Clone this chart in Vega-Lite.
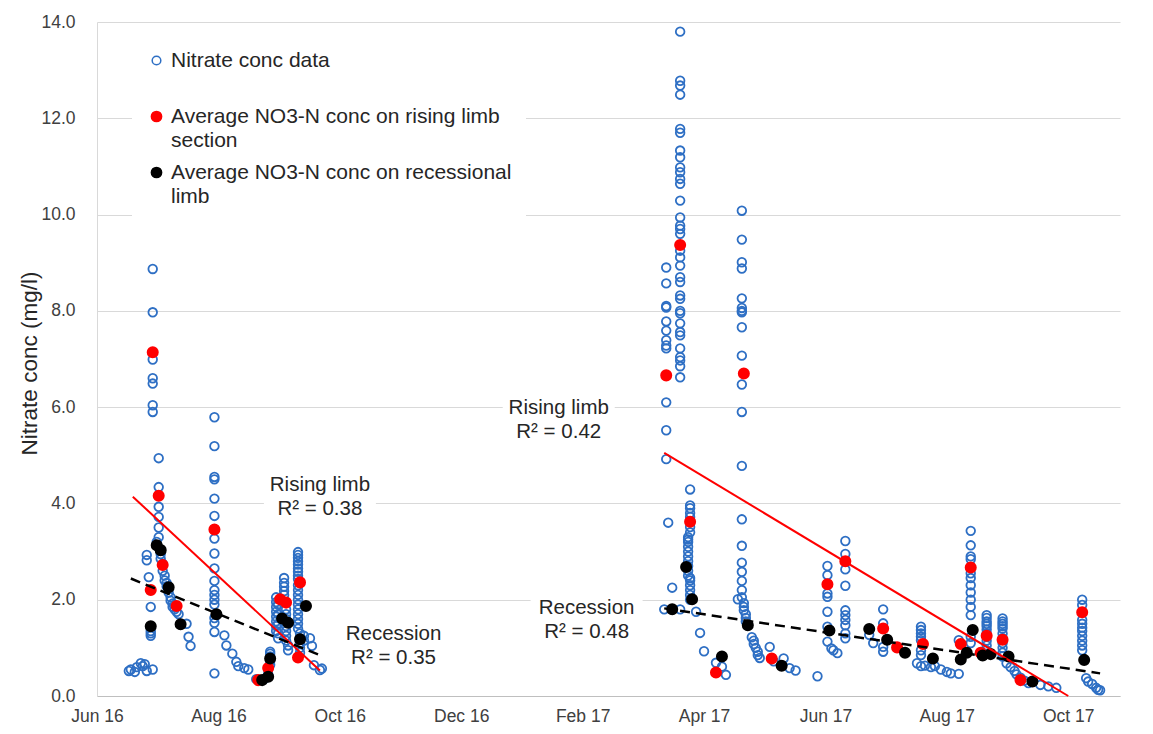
{
  "$schema": "https://vega.github.io/schema/vega-lite/v6.json",
  "width": 1023,
  "height": 674,
  "autosize": "none",
  "padding": {"left": 97, "top": 22, "right": 33, "bottom": 38},
  "background": "white",
  "config": {
    "font": "Liberation Sans",
    "view": {"stroke": null},
    "axis": {"labelFont": "Liberation Sans", "titleFont": "Liberation Sans"},
    "axisY": {"titleFontSize": 22.5, "titleFontWeight": "normal"}
  },
  "datasets": {
    "obs": [
      {"date":"2016-06-19","value":0.52,"series":"data"},
      {"date":"2016-06-20","value":0.55,"series":"data"},
      {"date":"2016-06-22","value":0.50,"series":"data"},
      {"date":"2016-06-23","value":0.60,"series":"data"},
      {"date":"2016-06-25","value":0.68,"series":"data"},
      {"date":"2016-06-26","value":0.62,"series":"data"},
      {"date":"2016-06-27","value":0.66,"series":"data"},
      {"date":"2016-06-28","value":0.52,"series":"data"},
      {"date":"2016-07-01","value":0.55,"series":"data"},
      {"date":"2016-06-28","value":2.93,"series":"data"},
      {"date":"2016-06-28","value":2.82,"series":"data"},
      {"date":"2016-06-29","value":2.47,"series":"data"},
      {"date":"2016-06-30","value":1.85,"series":"data"},
      {"date":"2016-06-30","value":1.35,"series":"data"},
      {"date":"2016-06-30","value":1.25,"series":"data"},
      {"date":"2016-06-30","value":1.30,"series":"data"},
      {"date":"2016-07-01","value":8.87,"series":"data"},
      {"date":"2016-07-01","value":7.97,"series":"data"},
      {"date":"2016-07-01","value":6.99,"series":"data"},
      {"date":"2016-07-01","value":6.60,"series":"data"},
      {"date":"2016-07-01","value":6.49,"series":"data"},
      {"date":"2016-07-01","value":6.04,"series":"data"},
      {"date":"2016-07-01","value":5.90,"series":"data"},
      {"date":"2016-07-04","value":4.94,"series":"data"},
      {"date":"2016-07-04","value":4.34,"series":"data"},
      {"date":"2016-07-04","value":3.93,"series":"data"},
      {"date":"2016-07-04","value":3.72,"series":"data"},
      {"date":"2016-07-04","value":3.50,"series":"data"},
      {"date":"2016-07-04","value":3.30,"series":"data"},
      {"date":"2016-07-03","value":3.20,"series":"data"},
      {"date":"2016-07-05","value":2.95,"series":"data"},
      {"date":"2016-07-05","value":2.85,"series":"data"},
      {"date":"2016-07-06","value":2.75,"series":"data"},
      {"date":"2016-07-06","value":2.60,"series":"data"},
      {"date":"2016-07-07","value":2.50,"series":"data"},
      {"date":"2016-07-07","value":2.40,"series":"data"},
      {"date":"2016-07-08","value":2.35,"series":"data"},
      {"date":"2016-07-08","value":2.28,"series":"data"},
      {"date":"2016-07-09","value":2.15,"series":"data"},
      {"date":"2016-07-10","value":2.05,"series":"data"},
      {"date":"2016-07-10","value":1.98,"series":"data"},
      {"date":"2016-07-11","value":1.92,"series":"data"},
      {"date":"2016-07-11","value":1.85,"series":"data"},
      {"date":"2016-07-12","value":1.80,"series":"data"},
      {"date":"2016-07-13","value":1.75,"series":"data"},
      {"date":"2016-07-14","value":1.70,"series":"data"},
      {"date":"2016-07-18","value":1.50,"series":"data"},
      {"date":"2016-07-19","value":1.23,"series":"data"},
      {"date":"2016-07-20","value":1.04,"series":"data"},
      {"date":"2016-08-01","value":5.79,"series":"data"},
      {"date":"2016-08-01","value":5.19,"series":"data"},
      {"date":"2016-08-01","value":4.55,"series":"data"},
      {"date":"2016-08-01","value":4.50,"series":"data"},
      {"date":"2016-08-01","value":4.10,"series":"data"},
      {"date":"2016-08-01","value":3.74,"series":"data"},
      {"date":"2016-08-01","value":3.27,"series":"data"},
      {"date":"2016-08-01","value":2.96,"series":"data"},
      {"date":"2016-08-01","value":2.65,"series":"data"},
      {"date":"2016-08-01","value":2.39,"series":"data"},
      {"date":"2016-08-01","value":2.20,"series":"data"},
      {"date":"2016-08-01","value":2.10,"series":"data"},
      {"date":"2016-08-01","value":2.00,"series":"data"},
      {"date":"2016-08-01","value":1.90,"series":"data"},
      {"date":"2016-08-01","value":1.62,"series":"data"},
      {"date":"2016-08-01","value":1.52,"series":"data"},
      {"date":"2016-08-01","value":1.33,"series":"data"},
      {"date":"2016-08-01","value":0.47,"series":"data"},
      {"date":"2016-08-06","value":1.26,"series":"data"},
      {"date":"2016-08-07","value":1.05,"series":"data"},
      {"date":"2016-08-10","value":0.88,"series":"data"},
      {"date":"2016-08-12","value":0.71,"series":"data"},
      {"date":"2016-08-13","value":0.62,"series":"data"},
      {"date":"2016-08-16","value":0.58,"series":"data"},
      {"date":"2016-08-18","value":0.55,"series":"data"},
      {"date":"2016-08-22","value":0.35,"series":"data"},
      {"date":"2016-08-24","value":0.33,"series":"data"},
      {"date":"2016-08-26","value":0.35,"series":"data"},
      {"date":"2016-08-28","value":0.45,"series":"data"},
      {"date":"2016-08-28","value":0.55,"series":"data"},
      {"date":"2016-08-29","value":0.65,"series":"data"},
      {"date":"2016-08-29","value":0.72,"series":"data"},
      {"date":"2016-08-29","value":0.82,"series":"data"},
      {"date":"2016-08-29","value":0.88,"series":"data"},
      {"date":"2016-08-29","value":0.92,"series":"data"},
      {"date":"2016-09-01","value":2.05,"series":"data"},
      {"date":"2016-09-01","value":1.95,"series":"data"},
      {"date":"2016-09-01","value":1.85,"series":"data"},
      {"date":"2016-09-01","value":1.75,"series":"data"},
      {"date":"2016-09-01","value":1.65,"series":"data"},
      {"date":"2016-09-01","value":1.55,"series":"data"},
      {"date":"2016-09-01","value":1.45,"series":"data"},
      {"date":"2016-09-01","value":1.35,"series":"data"},
      {"date":"2016-09-02","value":1.90,"series":"data"},
      {"date":"2016-09-02","value":1.70,"series":"data"},
      {"date":"2016-09-02","value":1.50,"series":"data"},
      {"date":"2016-09-02","value":1.30,"series":"data"},
      {"date":"2016-09-02","value":1.20,"series":"data"},
      {"date":"2016-09-05","value":2.45,"series":"data"},
      {"date":"2016-09-05","value":2.35,"series":"data"},
      {"date":"2016-09-05","value":2.27,"series":"data"},
      {"date":"2016-09-05","value":2.18,"series":"data"},
      {"date":"2016-09-05","value":2.10,"series":"data"},
      {"date":"2016-09-06","value":1.80,"series":"data"},
      {"date":"2016-09-06","value":1.70,"series":"data"},
      {"date":"2016-09-06","value":1.60,"series":"data"},
      {"date":"2016-09-06","value":1.45,"series":"data"},
      {"date":"2016-09-06","value":1.35,"series":"data"},
      {"date":"2016-09-06","value":1.25,"series":"data"},
      {"date":"2016-09-06","value":1.15,"series":"data"},
      {"date":"2016-09-07","value":1.05,"series":"data"},
      {"date":"2016-09-07","value":0.95,"series":"data"},
      {"date":"2016-09-12","value":2.99,"series":"data"},
      {"date":"2016-09-12","value":2.93,"series":"data"},
      {"date":"2016-09-12","value":2.87,"series":"data"},
      {"date":"2016-09-12","value":2.80,"series":"data"},
      {"date":"2016-09-12","value":2.73,"series":"data"},
      {"date":"2016-09-12","value":2.65,"series":"data"},
      {"date":"2016-09-12","value":2.58,"series":"data"},
      {"date":"2016-09-12","value":2.50,"series":"data"},
      {"date":"2016-09-12","value":2.43,"series":"data"},
      {"date":"2016-09-12","value":2.30,"series":"data"},
      {"date":"2016-09-12","value":2.20,"series":"data"},
      {"date":"2016-09-12","value":2.10,"series":"data"},
      {"date":"2016-09-12","value":2.00,"series":"data"},
      {"date":"2016-09-12","value":1.90,"series":"data"},
      {"date":"2016-09-12","value":1.80,"series":"data"},
      {"date":"2016-09-12","value":1.70,"series":"data"},
      {"date":"2016-09-12","value":1.60,"series":"data"},
      {"date":"2016-09-12","value":1.50,"series":"data"},
      {"date":"2016-09-12","value":1.40,"series":"data"},
      {"date":"2016-09-13","value":1.30,"series":"data"},
      {"date":"2016-09-13","value":1.20,"series":"data"},
      {"date":"2016-09-13","value":1.10,"series":"data"},
      {"date":"2016-09-13","value":1.00,"series":"data"},
      {"date":"2016-09-13","value":0.90,"series":"data"},
      {"date":"2016-09-15","value":1.25,"series":"data"},
      {"date":"2016-09-15","value":1.15,"series":"data"},
      {"date":"2016-09-18","value":1.20,"series":"data"},
      {"date":"2016-09-19","value":1.04,"series":"data"},
      {"date":"2016-09-20","value":0.64,"series":"data"},
      {"date":"2016-09-23","value":0.54,"series":"data"},
      {"date":"2016-09-24","value":0.57,"series":"data"},
      {"date":"2017-03-16","value":8.90,"series":"data"},
      {"date":"2017-03-16","value":8.57,"series":"data"},
      {"date":"2017-03-16","value":8.10,"series":"data"},
      {"date":"2017-03-16","value":8.07,"series":"data"},
      {"date":"2017-03-16","value":7.78,"series":"data"},
      {"date":"2017-03-16","value":7.59,"series":"data"},
      {"date":"2017-03-16","value":7.39,"series":"data"},
      {"date":"2017-03-16","value":7.28,"series":"data"},
      {"date":"2017-03-16","value":7.22,"series":"data"},
      {"date":"2017-03-16","value":6.10,"series":"data"},
      {"date":"2017-03-16","value":5.52,"series":"data"},
      {"date":"2017-03-16","value":4.92,"series":"data"},
      {"date":"2017-03-17","value":3.60,"series":"data"},
      {"date":"2017-03-15","value":1.80,"series":"data"},
      {"date":"2017-03-23","value":13.80,"series":"data"},
      {"date":"2017-03-23","value":12.78,"series":"data"},
      {"date":"2017-03-23","value":12.68,"series":"data"},
      {"date":"2017-03-23","value":12.49,"series":"data"},
      {"date":"2017-03-23","value":11.78,"series":"data"},
      {"date":"2017-03-23","value":11.70,"series":"data"},
      {"date":"2017-03-23","value":11.33,"series":"data"},
      {"date":"2017-03-23","value":11.19,"series":"data"},
      {"date":"2017-03-23","value":10.98,"series":"data"},
      {"date":"2017-03-23","value":10.88,"series":"data"},
      {"date":"2017-03-23","value":10.74,"series":"data"},
      {"date":"2017-03-23","value":10.64,"series":"data"},
      {"date":"2017-03-23","value":10.29,"series":"data"},
      {"date":"2017-03-23","value":9.94,"series":"data"},
      {"date":"2017-03-23","value":9.77,"series":"data"},
      {"date":"2017-03-23","value":9.70,"series":"data"},
      {"date":"2017-03-23","value":9.60,"series":"data"},
      {"date":"2017-03-23","value":9.25,"series":"data"},
      {"date":"2017-03-23","value":9.11,"series":"data"},
      {"date":"2017-03-23","value":8.94,"series":"data"},
      {"date":"2017-03-23","value":8.70,"series":"data"},
      {"date":"2017-03-23","value":8.60,"series":"data"},
      {"date":"2017-03-23","value":8.32,"series":"data"},
      {"date":"2017-03-23","value":8.25,"series":"data"},
      {"date":"2017-03-23","value":8.00,"series":"data"},
      {"date":"2017-03-23","value":7.95,"series":"data"},
      {"date":"2017-03-23","value":7.74,"series":"data"},
      {"date":"2017-03-23","value":7.56,"series":"data"},
      {"date":"2017-03-23","value":7.49,"series":"data"},
      {"date":"2017-03-23","value":7.22,"series":"data"},
      {"date":"2017-03-23","value":7.04,"series":"data"},
      {"date":"2017-03-23","value":6.97,"series":"data"},
      {"date":"2017-03-23","value":6.85,"series":"data"},
      {"date":"2017-03-23","value":6.62,"series":"data"},
      {"date":"2017-03-19","value":2.25,"series":"data"},
      {"date":"2017-03-23","value":1.80,"series":"data"},
      {"date":"2017-03-28","value":4.29,"series":"data"},
      {"date":"2017-03-28","value":3.96,"series":"data"},
      {"date":"2017-03-28","value":3.90,"series":"data"},
      {"date":"2017-03-28","value":3.80,"series":"data"},
      {"date":"2017-03-28","value":3.72,"series":"data"},
      {"date":"2017-03-28","value":3.51,"series":"data"},
      {"date":"2017-03-28","value":3.40,"series":"data"},
      {"date":"2017-03-27","value":3.30,"series":"data"},
      {"date":"2017-03-27","value":3.25,"series":"data"},
      {"date":"2017-03-27","value":3.20,"series":"data"},
      {"date":"2017-03-27","value":3.10,"series":"data"},
      {"date":"2017-03-27","value":3.00,"series":"data"},
      {"date":"2017-03-27","value":2.90,"series":"data"},
      {"date":"2017-03-27","value":2.80,"series":"data"},
      {"date":"2017-03-27","value":2.70,"series":"data"},
      {"date":"2017-03-27","value":2.60,"series":"data"},
      {"date":"2017-03-27","value":2.50,"series":"data"},
      {"date":"2017-03-28","value":2.45,"series":"data"},
      {"date":"2017-03-28","value":2.40,"series":"data"},
      {"date":"2017-03-28","value":2.30,"series":"data"},
      {"date":"2017-03-28","value":2.20,"series":"data"},
      {"date":"2017-03-28","value":2.10,"series":"data"},
      {"date":"2017-03-28","value":2.00,"series":"data"},
      {"date":"2017-03-31","value":1.75,"series":"data"},
      {"date":"2017-04-02","value":1.31,"series":"data"},
      {"date":"2017-04-04","value":0.93,"series":"data"},
      {"date":"2017-04-10","value":0.69,"series":"data"},
      {"date":"2017-04-13","value":0.61,"series":"data"},
      {"date":"2017-04-15","value":0.44,"series":"data"},
      {"date":"2017-04-23","value":10.08,"series":"data"},
      {"date":"2017-04-23","value":9.48,"series":"data"},
      {"date":"2017-04-23","value":9.01,"series":"data"},
      {"date":"2017-04-23","value":8.88,"series":"data"},
      {"date":"2017-04-23","value":8.26,"series":"data"},
      {"date":"2017-04-23","value":8.06,"series":"data"},
      {"date":"2017-04-23","value":8.00,"series":"data"},
      {"date":"2017-04-23","value":7.97,"series":"data"},
      {"date":"2017-04-23","value":7.66,"series":"data"},
      {"date":"2017-04-23","value":7.07,"series":"data"},
      {"date":"2017-04-23","value":6.47,"series":"data"},
      {"date":"2017-04-23","value":5.90,"series":"data"},
      {"date":"2017-04-23","value":4.78,"series":"data"},
      {"date":"2017-04-23","value":3.67,"series":"data"},
      {"date":"2017-04-23","value":3.12,"series":"data"},
      {"date":"2017-04-23","value":2.77,"series":"data"},
      {"date":"2017-04-23","value":2.58,"series":"data"},
      {"date":"2017-04-23","value":2.39,"series":"data"},
      {"date":"2017-04-23","value":2.20,"series":"data"},
      {"date":"2017-04-23","value":2.05,"series":"data"},
      {"date":"2017-04-21","value":2.01,"series":"data"},
      {"date":"2017-04-24","value":1.93,"series":"data"},
      {"date":"2017-04-24","value":1.85,"series":"data"},
      {"date":"2017-04-24","value":1.78,"series":"data"},
      {"date":"2017-04-25","value":1.70,"series":"data"},
      {"date":"2017-04-25","value":1.62,"series":"data"},
      {"date":"2017-04-25","value":1.55,"series":"data"},
      {"date":"2017-04-28","value":1.22,"series":"data"},
      {"date":"2017-04-29","value":1.15,"series":"data"},
      {"date":"2017-04-29","value":1.08,"series":"data"},
      {"date":"2017-04-30","value":1.00,"series":"data"},
      {"date":"2017-05-01","value":0.92,"series":"data"},
      {"date":"2017-05-01","value":0.85,"series":"data"},
      {"date":"2017-05-02","value":0.79,"series":"data"},
      {"date":"2017-05-07","value":1.02,"series":"data"},
      {"date":"2017-05-09","value":0.72,"series":"data"},
      {"date":"2017-05-14","value":0.78,"series":"data"},
      {"date":"2017-05-17","value":0.58,"series":"data"},
      {"date":"2017-05-20","value":0.53,"series":"data"},
      {"date":"2017-05-31","value":0.41,"series":"data"},
      {"date":"2017-06-05","value":2.70,"series":"data"},
      {"date":"2017-06-05","value":2.51,"series":"data"},
      {"date":"2017-06-05","value":2.13,"series":"data"},
      {"date":"2017-06-05","value":2.06,"series":"data"},
      {"date":"2017-06-05","value":1.75,"series":"data"},
      {"date":"2017-06-05","value":1.44,"series":"data"},
      {"date":"2017-06-05","value":1.13,"series":"data"},
      {"date":"2017-06-07","value":0.99,"series":"data"},
      {"date":"2017-06-08","value":0.95,"series":"data"},
      {"date":"2017-06-10","value":0.89,"series":"data"},
      {"date":"2017-06-14","value":3.22,"series":"data"},
      {"date":"2017-06-14","value":2.95,"series":"data"},
      {"date":"2017-06-14","value":2.63,"series":"data"},
      {"date":"2017-06-14","value":2.29,"series":"data"},
      {"date":"2017-06-14","value":1.78,"series":"data"},
      {"date":"2017-06-14","value":1.68,"series":"data"},
      {"date":"2017-06-14","value":1.58,"series":"data"},
      {"date":"2017-06-14","value":1.47,"series":"data"},
      {"date":"2017-06-14","value":1.30,"series":"data"},
      {"date":"2017-06-14","value":1.20,"series":"data"},
      {"date":"2017-06-26","value":1.27,"series":"data"},
      {"date":"2017-06-28","value":1.10,"series":"data"},
      {"date":"2017-07-03","value":1.80,"series":"data"},
      {"date":"2017-07-03","value":1.51,"series":"data"},
      {"date":"2017-07-03","value":1.02,"series":"data"},
      {"date":"2017-07-03","value":0.92,"series":"data"},
      {"date":"2017-07-22","value":1.44,"series":"data"},
      {"date":"2017-07-22","value":1.37,"series":"data"},
      {"date":"2017-07-22","value":1.30,"series":"data"},
      {"date":"2017-07-22","value":1.23,"series":"data"},
      {"date":"2017-07-22","value":1.16,"series":"data"},
      {"date":"2017-07-22","value":0.95,"series":"data"},
      {"date":"2017-07-22","value":0.85,"series":"data"},
      {"date":"2017-07-20","value":0.68,"series":"data"},
      {"date":"2017-07-22","value":0.62,"series":"data"},
      {"date":"2017-07-24","value":0.63,"series":"data"},
      {"date":"2017-07-27","value":0.60,"series":"data"},
      {"date":"2017-07-29","value":0.62,"series":"data"},
      {"date":"2017-08-01","value":0.55,"series":"data"},
      {"date":"2017-08-04","value":0.50,"series":"data"},
      {"date":"2017-08-06","value":0.47,"series":"data"},
      {"date":"2017-08-10","value":0.46,"series":"data"},
      {"date":"2017-08-10","value":1.16,"series":"data"},
      {"date":"2017-08-16","value":3.43,"series":"data"},
      {"date":"2017-08-16","value":3.13,"series":"data"},
      {"date":"2017-08-16","value":2.90,"series":"data"},
      {"date":"2017-08-16","value":2.84,"series":"data"},
      {"date":"2017-08-16","value":2.55,"series":"data"},
      {"date":"2017-08-16","value":2.45,"series":"data"},
      {"date":"2017-08-16","value":2.30,"series":"data"},
      {"date":"2017-08-16","value":2.15,"series":"data"},
      {"date":"2017-08-16","value":2.00,"series":"data"},
      {"date":"2017-08-16","value":1.85,"series":"data"},
      {"date":"2017-08-16","value":1.68,"series":"data"},
      {"date":"2017-08-16","value":1.23,"series":"data"},
      {"date":"2017-08-16","value":1.10,"series":"data"},
      {"date":"2017-08-24","value":1.68,"series":"data"},
      {"date":"2017-08-24","value":1.62,"series":"data"},
      {"date":"2017-08-24","value":1.55,"series":"data"},
      {"date":"2017-08-24","value":1.50,"series":"data"},
      {"date":"2017-08-24","value":1.45,"series":"data"},
      {"date":"2017-08-24","value":1.38,"series":"data"},
      {"date":"2017-08-24","value":1.30,"series":"data"},
      {"date":"2017-08-24","value":1.15,"series":"data"},
      {"date":"2017-08-24","value":1.05,"series":"data"},
      {"date":"2017-08-24","value":0.95,"series":"data"},
      {"date":"2017-09-01","value":1.61,"series":"data"},
      {"date":"2017-09-01","value":1.55,"series":"data"},
      {"date":"2017-09-01","value":1.50,"series":"data"},
      {"date":"2017-09-01","value":1.45,"series":"data"},
      {"date":"2017-09-01","value":1.40,"series":"data"},
      {"date":"2017-09-01","value":1.30,"series":"data"},
      {"date":"2017-09-01","value":1.20,"series":"data"},
      {"date":"2017-09-01","value":1.10,"series":"data"},
      {"date":"2017-09-01","value":1.00,"series":"data"},
      {"date":"2017-09-01","value":0.90,"series":"data"},
      {"date":"2017-09-01","value":0.82,"series":"data"},
      {"date":"2017-09-03","value":0.68,"series":"data"},
      {"date":"2017-09-05","value":0.60,"series":"data"},
      {"date":"2017-09-07","value":0.52,"series":"data"},
      {"date":"2017-09-08","value":0.45,"series":"data"},
      {"date":"2017-09-10","value":0.38,"series":"data"},
      {"date":"2017-09-12","value":0.32,"series":"data"},
      {"date":"2017-09-14","value":0.27,"series":"data"},
      {"date":"2017-09-20","value":0.23,"series":"data"},
      {"date":"2017-09-24","value":0.20,"series":"data"},
      {"date":"2017-09-28","value":0.17,"series":"data"},
      {"date":"2017-10-11","value":2.00,"series":"data"},
      {"date":"2017-10-11","value":1.89,"series":"data"},
      {"date":"2017-10-11","value":1.58,"series":"data"},
      {"date":"2017-10-11","value":1.50,"series":"data"},
      {"date":"2017-10-11","value":1.42,"series":"data"},
      {"date":"2017-10-11","value":1.35,"series":"data"},
      {"date":"2017-10-11","value":1.25,"series":"data"},
      {"date":"2017-10-11","value":1.15,"series":"data"},
      {"date":"2017-10-11","value":1.05,"series":"data"},
      {"date":"2017-10-11","value":0.95,"series":"data"},
      {"date":"2017-10-13","value":0.37,"series":"data"},
      {"date":"2017-10-14","value":0.30,"series":"data"},
      {"date":"2017-10-16","value":0.25,"series":"data"},
      {"date":"2017-10-18","value":0.17,"series":"data"},
      {"date":"2017-10-20","value":0.12,"series":"data"},
      {"date":"2017-10-19","value":0.13,"series":"data"},
      {"date":"2016-06-30","value":2.20,"series":"rising"},
      {"date":"2016-07-01","value":7.14,"series":"rising"},
      {"date":"2016-07-04","value":4.16,"series":"rising"},
      {"date":"2016-07-06","value":2.72,"series":"rising"},
      {"date":"2016-07-13","value":1.87,"series":"rising"},
      {"date":"2016-08-01","value":3.46,"series":"rising"},
      {"date":"2016-08-23","value":0.33,"series":"rising"},
      {"date":"2016-08-28","value":0.58,"series":"rising"},
      {"date":"2016-09-03","value":2.01,"series":"rising"},
      {"date":"2016-09-06","value":1.94,"series":"rising"},
      {"date":"2016-09-13","value":2.36,"series":"rising"},
      {"date":"2016-09-12","value":0.80,"series":"rising"},
      {"date":"2017-03-16","value":6.66,"series":"rising"},
      {"date":"2017-03-23","value":9.37,"series":"rising"},
      {"date":"2017-03-28","value":3.62,"series":"rising"},
      {"date":"2017-04-10","value":0.49,"series":"rising"},
      {"date":"2017-04-24","value":6.70,"series":"rising"},
      {"date":"2017-05-08","value":0.78,"series":"rising"},
      {"date":"2017-06-05","value":2.32,"series":"rising"},
      {"date":"2017-06-14","value":2.80,"series":"rising"},
      {"date":"2017-07-03","value":1.40,"series":"rising"},
      {"date":"2017-07-10","value":1.01,"series":"rising"},
      {"date":"2017-07-23","value":1.08,"series":"rising"},
      {"date":"2017-08-11","value":1.08,"series":"rising"},
      {"date":"2017-08-16","value":2.67,"series":"rising"},
      {"date":"2017-08-21","value":0.90,"series":"rising"},
      {"date":"2017-08-24","value":1.25,"series":"rising"},
      {"date":"2017-09-01","value":1.17,"series":"rising"},
      {"date":"2017-09-10","value":0.33,"series":"rising"},
      {"date":"2017-10-11","value":1.74,"series":"rising"},
      {"date":"2016-06-30","value":1.45,"series":"recession"},
      {"date":"2016-07-03","value":3.13,"series":"recession"},
      {"date":"2016-07-05","value":3.03,"series":"recession"},
      {"date":"2016-07-09","value":2.26,"series":"recession"},
      {"date":"2016-07-15","value":1.49,"series":"recession"},
      {"date":"2016-08-02","value":1.70,"series":"recession"},
      {"date":"2016-08-25","value":0.33,"series":"recession"},
      {"date":"2016-08-28","value":0.40,"series":"recession"},
      {"date":"2016-08-29","value":0.78,"series":"recession"},
      {"date":"2016-09-04","value":1.61,"series":"recession"},
      {"date":"2016-09-07","value":1.52,"series":"recession"},
      {"date":"2016-09-13","value":1.18,"series":"recession"},
      {"date":"2016-09-16","value":1.87,"series":"recession"},
      {"date":"2017-03-19","value":1.80,"series":"recession"},
      {"date":"2017-03-26","value":2.68,"series":"recession"},
      {"date":"2017-03-29","value":2.01,"series":"recession"},
      {"date":"2017-04-13","value":0.82,"series":"recession"},
      {"date":"2017-04-26","value":1.47,"series":"recession"},
      {"date":"2017-05-13","value":0.63,"series":"recession"},
      {"date":"2017-06-06","value":1.36,"series":"recession"},
      {"date":"2017-06-26","value":1.39,"series":"recession"},
      {"date":"2017-07-05","value":1.17,"series":"recession"},
      {"date":"2017-07-14","value":0.90,"series":"recession"},
      {"date":"2017-07-28","value":0.78,"series":"recession"},
      {"date":"2017-08-11","value":0.76,"series":"recession"},
      {"date":"2017-08-14","value":0.90,"series":"recession"},
      {"date":"2017-08-17","value":1.37,"series":"recession"},
      {"date":"2017-08-22","value":0.84,"series":"recession"},
      {"date":"2017-08-26","value":0.87,"series":"recession"},
      {"date":"2017-09-04","value":0.82,"series":"recession"},
      {"date":"2017-09-16","value":0.30,"series":"recession"},
      {"date":"2017-10-12","value":0.75,"series":"recession"}
    ],
    "fits": [
      {"fit":"rise1","kind":"rising","date":"2016-06-21","value":4.14},
      {"fit":"rise1","kind":"rising","date":"2016-09-23","value":0.53},
      {"fit":"rise2","kind":"rising","date":"2017-03-15","value":5.05},
      {"fit":"rise2","kind":"rising","date":"2017-10-04","value":0.0},
      {"fit":"rec1","kind":"recession","date":"2016-06-20","value":2.44},
      {"fit":"rec1","kind":"recession","date":"2016-09-24","value":0.83},
      {"fit":"rec2","kind":"recession","date":"2017-03-15","value":1.82},
      {"fit":"rec2","kind":"recession","date":"2017-10-20","value":0.47}
    ],
    "notes": [
      {"date":"2016-09-23","value":4.38,"label":"Rising limb\nR² = 0.38"},
      {"date":"2016-10-30","value":1.29,"label":"Recession\nR² = 0.35"},
      {"date":"2017-01-21","value":5.98,"label":"Rising limb\nR² = 0.42"},
      {"date":"2017-02-04","value":1.83,"label":"Recession\nR² = 0.48"}
    ]
  },
  "encoding": {
    "x": {
      "field": "date",
      "type": "temporal",
      "scale": {
        "type": "utc",
        "domain": [
          {"year": 2016, "month": 6, "date": 3, "utc": true},
          {"year": 2017, "month": 10, "date": 30, "utc": true}
        ]
      },
      "axis": {
        "title": null,
        "grid": false,
        "ticks": false,
        "domainColor": "#BFBFBF",
        "labelFontSize": 17.5,
        "labelColor": "#404040",
        "labelPadding": 11,
        "labelFlush": false,
        "labelExpr": "utcFormat(datum.value, '%b %y')",
        "values": [
          {"year": 2016, "month": 6, "date": 3, "utc": true},
          {"year": 2016, "month": 8, "date": 3, "utc": true},
          {"year": 2016, "month": 10, "date": 3, "utc": true},
          {"year": 2016, "month": 12, "date": 3, "utc": true},
          {"year": 2017, "month": 2, "date": 2, "utc": true},
          {"year": 2017, "month": 4, "date": 4, "utc": true},
          {"year": 2017, "month": 6, "date": 4, "utc": true},
          {"year": 2017, "month": 8, "date": 4, "utc": true},
          {"year": 2017, "month": 10, "date": 4, "utc": true}
        ]
      }
    },
    "y": {
      "field": "value",
      "type": "quantitative",
      "scale": {"domain": [0, 14], "nice": false},
      "axis": {
        "title": "Nitrate conc (mg/l)",
        "values": [0, 2, 4, 6, 8, 10, 12, 14],
        "format": ".1f",
        "grid": true,
        "gridColor": "#D9D9D9",
        "domainColor": "#D9D9D9",
        "ticks": false,
        "labelFontSize": 17.5,
        "labelColor": "#404040",
        "labelPadding": 22,
        "titleFontSize": 22.5,
        "titleFontWeight": "normal",
        "titleColor": "#262626",
        "titleAngle": -90,
        "titleX": -68,
        "titleY": 341,
        "titleAlign": "center",
        "titleBaseline": "middle"
      }
    }
  },
  "layer": [
    {
      "data": {"name": "obs"},
      "mark": {"type": "point", "opacity": 1, "strokeWidth": 1.8},
      "encoding": {
        "fill": {
          "field": "series",
          "type": "nominal",
          "scale": {"domain": ["data", "rising", "recession"], "range": ["transparent", "#FF0000", "#000000"]},
          "legend": {
            "title": null,
            "orient": "none",
            "legendX": 35,
            "legendY": 14,
            "fillColor": "white",
            "padding": 14,
            "labelFontSize": 21,
            "labelFont": "Liberation Sans",
            "labelColor": "#262626",
            "labelOffset": 4,
            "labelLimit": 600,
            "rowPadding": 10,
            "symbolStrokeWidth": 1.5,
            "encoding": {"labels": {"lineHeight": {"value": 24.5}}},
            "labelExpr": "datum.value == 'data' ? ['Nitrate conc data', ' '] : datum.value == 'rising' ? ['Average NO3-N conc on rising limb', 'section'] : ['Average NO3-N conc on recessional', 'limb']"
          }
        },
        "stroke": {
          "field": "series",
          "type": "nominal",
          "scale": {"domain": ["data", "rising", "recession"], "range": ["#2E6FC4", "#FF0000", "#000000"]}
        },
        "size": {
          "field": "series",
          "type": "nominal",
          "scale": {"type": "ordinal", "domain": ["data", "rising", "recession"], "range": [74, 105, 105]}
        }
      }
    },
    {
      "data": {"name": "fits"},
      "transform": [{"filter": "datum.kind == 'rising'"}],
      "mark": {"type": "line", "color": "#FF0000", "strokeWidth": 2},
      "encoding": {"detail": {"field": "fit", "type": "nominal"}}
    },
    {
      "data": {"name": "fits"},
      "transform": [{"filter": "datum.kind == 'recession'"}],
      "mark": {"type": "line", "color": "#000000", "strokeWidth": 2.5, "strokeDash": [10, 6]},
      "encoding": {"detail": {"field": "fit", "type": "nominal"}}
    },
    {
      "data": {"name": "notes"},
      "mark": {"type": "point", "shape": "M-1,-0.46L1,-0.46L1,0.46L-1,0.46Z", "size": 12544, "filled": true, "fill": "white", "strokeWidth": 0, "opacity": 1, "yOffset": 12},
      "encoding": {}
    },
    {
      "data": {"name": "notes"},
      "mark": {"type": "text", "lineBreak": "\n", "lineHeight": 24, "fontSize": 20.5, "align": "center", "baseline": "middle", "color": "#262626"},
      "encoding": {"text": {"field": "label", "type": "nominal"}}
    }
  ]
}
